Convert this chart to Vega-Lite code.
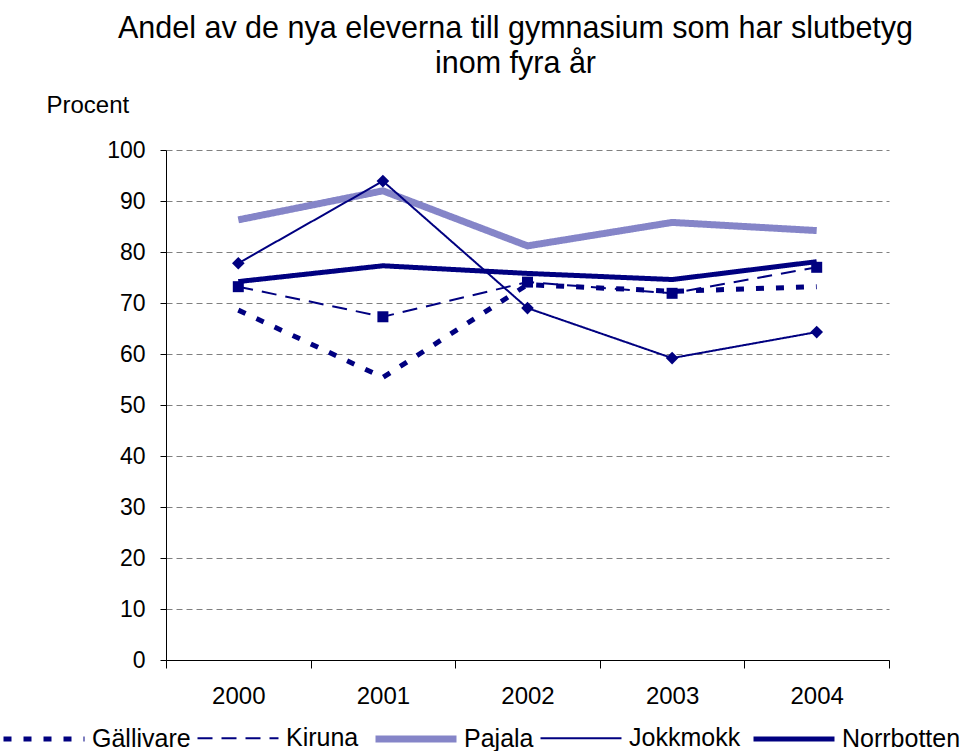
{
  "$schema": "https://vega.github.io/schema/vega-lite/v6.json",
  "autosize": "none",
  "width": 723,
  "height": 510,
  "padding": {"left": 166, "top": 150, "right": 89, "bottom": 91},
  "background": "white",
  "config": {"view": {"stroke": null}, "font": "Liberation Sans"},
  "title": {
    "text": ["Andel av de nya eleverna till gymnasium som har slutbetyg", "inom fyra år"],
    "font": "Liberation Sans", "fontSize": 30.5, "fontWeight": "normal", "color": "black",
    "lineHeight": 35, "anchor": "middle", "frame": "group", "dx": -12, "offset": 14
  },
  "data": {"values": [
    {"city": "Gällivare", "year": "2000", "value": 68.6},
    {"city": "Gällivare", "year": "2001", "value": 55.4},
    {"city": "Gällivare", "year": "2002", "value": 73.6},
    {"city": "Gällivare", "year": "2003", "value": 72.3},
    {"city": "Gällivare", "year": "2004", "value": 73.2},
    {"city": "Kiruna", "year": "2000", "value": 73.2},
    {"city": "Kiruna", "year": "2001", "value": 67.3},
    {"city": "Kiruna", "year": "2002", "value": 74.1},
    {"city": "Kiruna", "year": "2003", "value": 71.9},
    {"city": "Kiruna", "year": "2004", "value": 77.0},
    {"city": "Pajala", "year": "2000", "value": 86.3},
    {"city": "Pajala", "year": "2001", "value": 92.0},
    {"city": "Pajala", "year": "2002", "value": 81.2},
    {"city": "Pajala", "year": "2003", "value": 85.8},
    {"city": "Pajala", "year": "2004", "value": 84.2},
    {"city": "Jokkmokk", "year": "2000", "value": 77.8},
    {"city": "Jokkmokk", "year": "2001", "value": 93.9},
    {"city": "Jokkmokk", "year": "2002", "value": 69.0},
    {"city": "Jokkmokk", "year": "2003", "value": 59.2},
    {"city": "Jokkmokk", "year": "2004", "value": 64.3},
    {"city": "Norrbotten", "year": "2000", "value": 74.2},
    {"city": "Norrbotten", "year": "2001", "value": 77.3},
    {"city": "Norrbotten", "year": "2002", "value": 75.8},
    {"city": "Norrbotten", "year": "2003", "value": 74.6},
    {"city": "Norrbotten", "year": "2004", "value": 78.1}
  ]},
  "encoding": {
    "x": {
      "field": "year", "type": "ordinal", "bandPosition": 0.5,
      "scale": {"type": "band", "paddingInner": 0, "paddingOuter": 0},
      "axis": {
        "title": null, "labelAngle": 0, "tickBand": "extent", "grid": false,
        "domainColor": "black", "tickColor": "black", "tickSize": 8,
        "labelFont": "Liberation Sans", "labelFontSize": 24, "labelColor": "black",
        "labelPadding": 16
      }
    },
    "y": {
      "field": "value", "type": "quantitative",
      "scale": {"domain": [0, 100], "nice": false, "zero": true},
      "axis": {
        "values": [0, 10, 20, 30, 40, 50, 60, 70, 80, 90, 100],
        "title": "Procent", "titleAngle": 0, "titleAlign": "left", "titleBaseline": "middle",
        "titleX": -120, "titleY": -45, "titleFont": "Liberation Sans", "titleFontSize": 24,
        "titleFontWeight": "normal", "titleColor": "black",
        "grid": true, "gridColor": "#808080", "gridDash": [6, 4], "gridWidth": 1,
        "domainColor": "black", "tickColor": "black", "tickSize": 6,
        "labelFont": "Liberation Sans", "labelFontSize": 23, "labelColor": "black",
        "labelPadding": 15
      }
    }
  },
  "layer": [
    {
      "mark": {"type": "line", "strokeCap": "butt", "strokeJoin": "miter"},
      "encoding": {
        "color": {
          "field": "city", "type": "nominal",
          "scale": {"domain": ["Gällivare", "Kiruna", "Pajala", "Jokkmokk", "Norrbotten"],
                    "range": ["#000080", "#000080", "#8585c8", "#000080", "#000080"]},
          "legend": {
            "orient": "none", "legendX": -166, "legendY": 545, "direction": "horizontal",
            "columns": 5, "title": null, "symbolType": "stroke", "symbolSize": 6560,
            "labelFont": "Liberation Sans", "labelFontSize": 25, "labelColor": "black",
            "columnPadding": 2, "labelOffset": 4
          }
        },
        "strokeDash": {
          "field": "city", "type": "nominal",
          "scale": {"domain": ["Gällivare", "Kiruna", "Pajala", "Jokkmokk", "Norrbotten"],
                    "range": [[8, 12], [15, 9], [1, 0], [1, 0], [1, 0]]},
          "legend": {
            "orient": "none", "legendX": -166, "legendY": 545, "direction": "horizontal",
            "columns": 5, "title": null, "symbolType": "stroke", "symbolSize": 6560,
            "labelFont": "Liberation Sans", "labelFontSize": 25, "labelColor": "black",
            "columnPadding": 2, "labelOffset": 4
          }
        },
        "strokeWidth": {
          "field": "city", "type": "nominal",
          "scale": {"type": "ordinal", "domain": ["Gällivare", "Kiruna", "Pajala", "Jokkmokk", "Norrbotten"],
                    "range": [5, 2, 7, 2, 5]},
          "legend": {
            "orient": "none", "legendX": -166, "legendY": 545, "direction": "horizontal",
            "columns": 5, "title": null, "symbolType": "stroke", "symbolSize": 6560,
            "labelFont": "Liberation Sans", "labelFontSize": 25, "labelColor": "black",
            "columnPadding": 2, "labelOffset": 4
          }
        }
      }
    },
    {
      "transform": [{"filter": "datum.city === 'Kiruna' || datum.city === 'Jokkmokk'"}],
      "mark": {"type": "point", "filled": true, "opacity": 1, "color": "#000080"},
      "encoding": {
        "shape": {
          "field": "city", "type": "nominal",
          "scale": {"domain": ["Kiruna", "Jokkmokk"], "range": ["square", "diamond"]},
          "legend": null
        },
        "size": {
          "field": "city", "type": "nominal",
          "scale": {"type": "ordinal", "domain": ["Kiruna", "Jokkmokk"], "range": [121, 160]},
          "legend": null
        }
      }
    }
  ]
}
